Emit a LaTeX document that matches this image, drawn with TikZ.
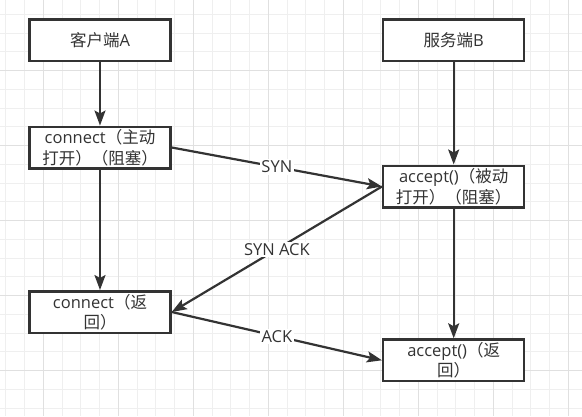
\documentclass[tikz,border=0pt]{standalone}
\usepackage{fontspec}
\newfontfamily\cjk{Noto Sans CJK SC}
\newfontfamily\lat{Open Sans}
\usetikzlibrary{arrows.meta}
\definecolor{minorgrid}{RGB}{239,239,239}
\definecolor{majorgrid}{RGB}{224,224,224}
\definecolor{ink}{RGB}{51,51,51}
\begin{document}
\begin{tikzpicture}[x=1pt,y=-1pt,
  box/.style={draw=ink, line width=2.5pt, fill=white, minimum width=141pt, minimum height=41.5pt, inner sep=0pt, align=center, text=ink, font=\cjk\fontsize{16.5}{20.5}\selectfont},
  conn/.style={draw=ink, line width=2.2pt, -{Stealth[length=15pt,width=11pt,inset=3pt]}},
  lbl/.style={fill=white, text=ink, inner sep=1.5pt, font=\lat\fontsize{16.5}{19}\selectfont},
  minorline/.style={draw=minorgrid, line width=1pt},
  majorline/.style={draw=majorgrid, line width=1pt}]
\useasboundingbox (0,0) rectangle (582,416);
\fill[white] (0,0) rectangle (582,416);
% grid
\foreach \k in {0,...,30} \draw[minorline] ({5.8+18.75*\k},0) -- ({5.8+18.75*\k},416);
\foreach \k in {0,...,21} \draw[minorline] (0,{14.45+18.75*\k}) -- (582,{14.45+18.75*\k});
\foreach \m in {0,...,7} \draw[majorline] ({43.3+75*\m},0) -- ({43.3+75*\m},416);
\foreach \m in {0,...,4} \draw[majorline] (0,{70.7+75*\m}) -- (582,{70.7+75*\m});
% nodes
\node[box] (A) at (100,40.3) {客户端{\lat A}};
\node[box] (c1) at (100,147.5) {{\lat connect}（主动\\打开）（阻塞）};
\node[box] (c2) at (100,312) {{\lat connect}（返\\回）};
\node[box] (B) at (453.7,40.3) {服务端{\lat B}};
\node[box] (a1) at (453.7,186.5) {{\lat accept()}（被动\\打开）（阻塞）};
\node[box] (a2) at (453.7,360.3) {{\lat accept()}（返\\回）};
% connectors
\draw[conn] (A) -- (c1);
\draw[conn] (c1) -- (c2);
\draw[conn] (B) -- (a1);
\draw[conn] (a1) -- (a2);
\draw[conn] (c1.east) -- node[lbl] (syn) {SYN} (a1.west);
\draw[conn] (a1.west) -- node[lbl] (synack) {SYN ACK} (c2.east);
\draw[conn] (c2.east) -- node[lbl] (ack) {ACK} (a2.west);
\end{tikzpicture}
\end{document}
